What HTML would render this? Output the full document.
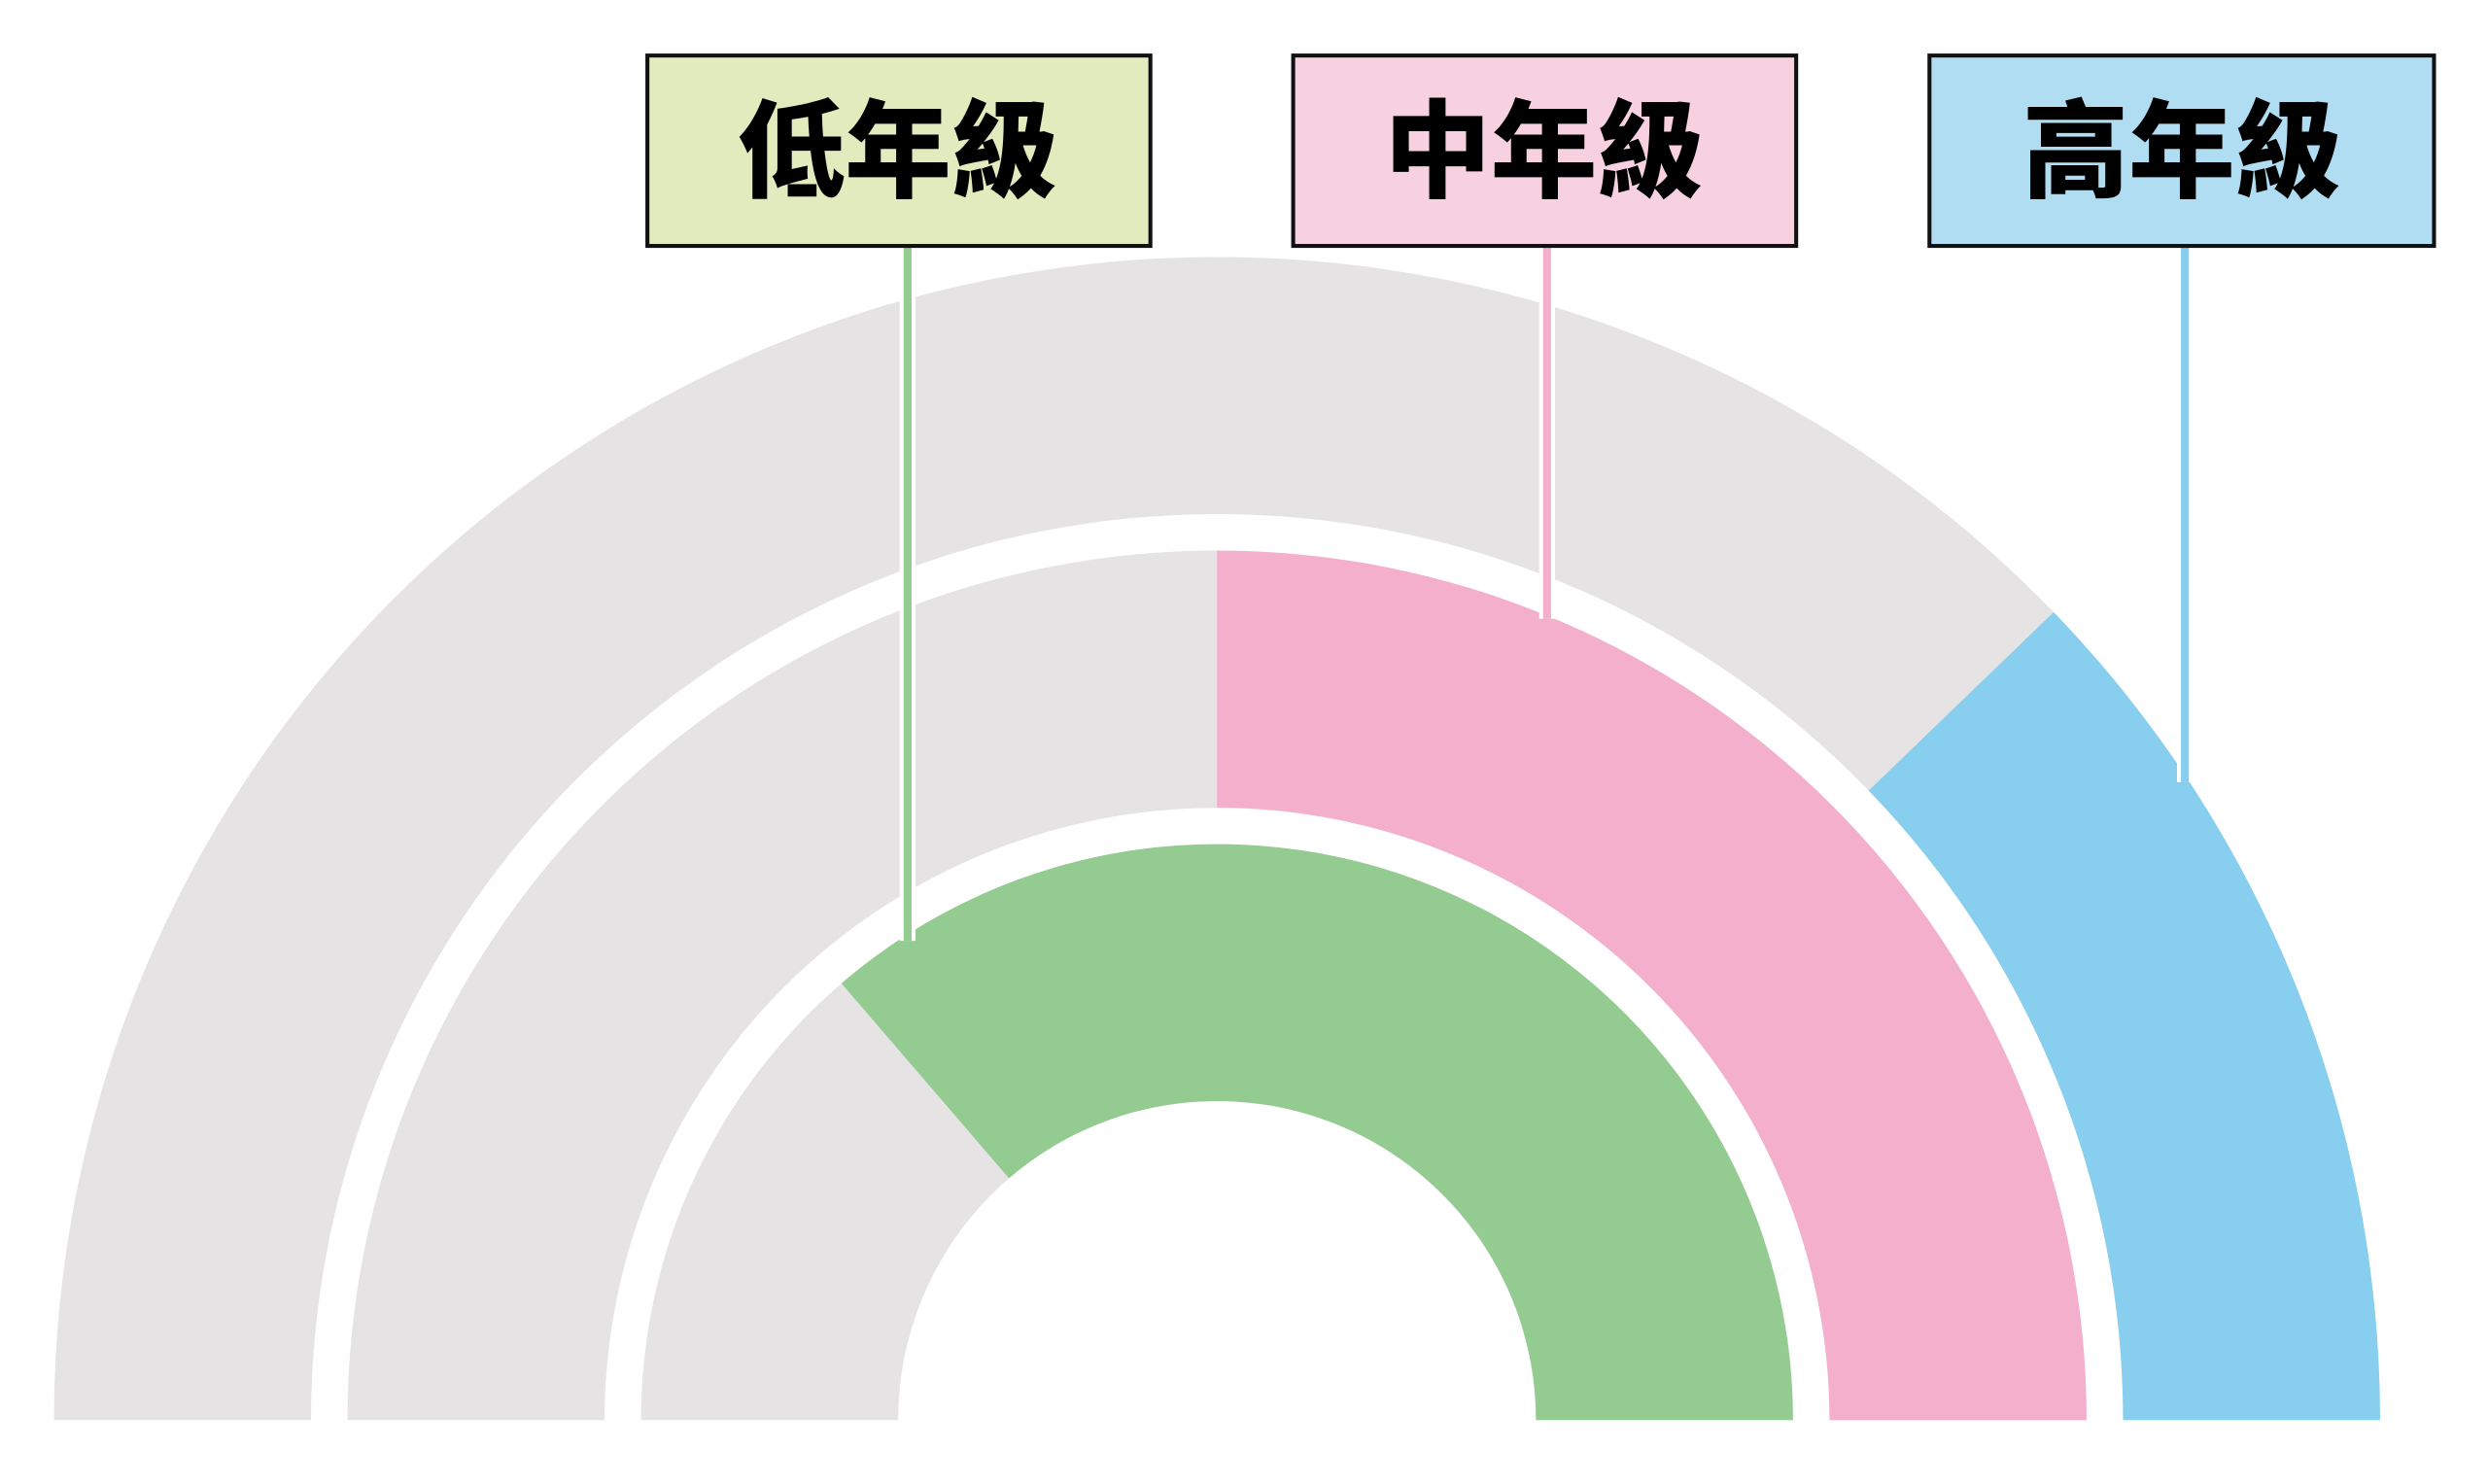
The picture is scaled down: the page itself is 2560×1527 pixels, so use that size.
<!DOCTYPE html>
<html><head><meta charset="utf-8"><style>
html,body{margin:0;padding:0;background:#fff;}
svg{display:block;}
text{font-family:"Liberation Sans","Noto Sans CJK TC","Noto Sans CJK JP",sans-serif;font-weight:900;}
</style></head><body>
<svg width="2560" height="1527" viewBox="0 0 1568 935.3" xmlns="http://www.w3.org/2000/svg">
<rect width="1568" height="935.3" fill="#fff"/>
<path d="M34,895 A733,733 0 0 1 1500,895 L1338,895 A571,571 0 0 0 196,895 Z" fill="#e5e3e4"/>
<path d="M219,895 A548,548 0 0 1 1315,895 L1153,895 A386,386 0 0 0 381,895 Z" fill="#e5e3e4"/>
<path d="M404,895 A363,363 0 0 1 1130,895 L968,895 A201,201 0 0 0 566,895 Z" fill="#e5e3e4"/>
<path d="M1500,895 A733,733 0 0 0 1294.3,385.8 L1177.7,498.3 A571,571 0 0 1 1338,895 Z" fill="#88ceee"/>
<path d="M1315,895 A548,548 0 0 0 767,347 L767,509 A386,386 0 0 1 1153,895 Z" fill="#f3afcb"/>
<path d="M1130,895 A363,363 0 0 0 530.3,619.8 L635.9,742.6 A201,201 0 0 1 968,895 Z" fill="#93cb91"/>
<g stroke="#fff" stroke-width="10">
<line x1="572" y1="155" x2="572" y2="593"/>
<line x1="975" y1="155" x2="975" y2="390"/>
<line x1="1377" y1="155" x2="1377" y2="493"/>
</g>
<line x1="572" y1="155" x2="572" y2="593" stroke="#93cb91" stroke-width="5"/>
<line x1="975" y1="155" x2="975" y2="390" stroke="#f3afcb" stroke-width="5"/>
<line x1="1377" y1="155" x2="1377" y2="493" stroke="#88ceee" stroke-width="5"/>
<rect x="408" y="35" width="317" height="120" fill="#e1ebbd" stroke="#111" stroke-width="2.5"/>
<rect x="815" y="35" width="317" height="120" fill="#f7d1e0" stroke="#111" stroke-width="2.5"/>
<rect x="1216" y="35" width="318" height="120" fill="#b1ddf2" stroke="#111" stroke-width="2.5"/>
<text x="566" y="119" font-size="67" text-anchor="middle" fill="#000">低年級</text>
<text x="973" y="119" font-size="67" text-anchor="middle" fill="#000">中年級</text>
<text x="1375" y="119" font-size="67" text-anchor="middle" fill="#000">高年級</text>
</svg>
</body></html>
